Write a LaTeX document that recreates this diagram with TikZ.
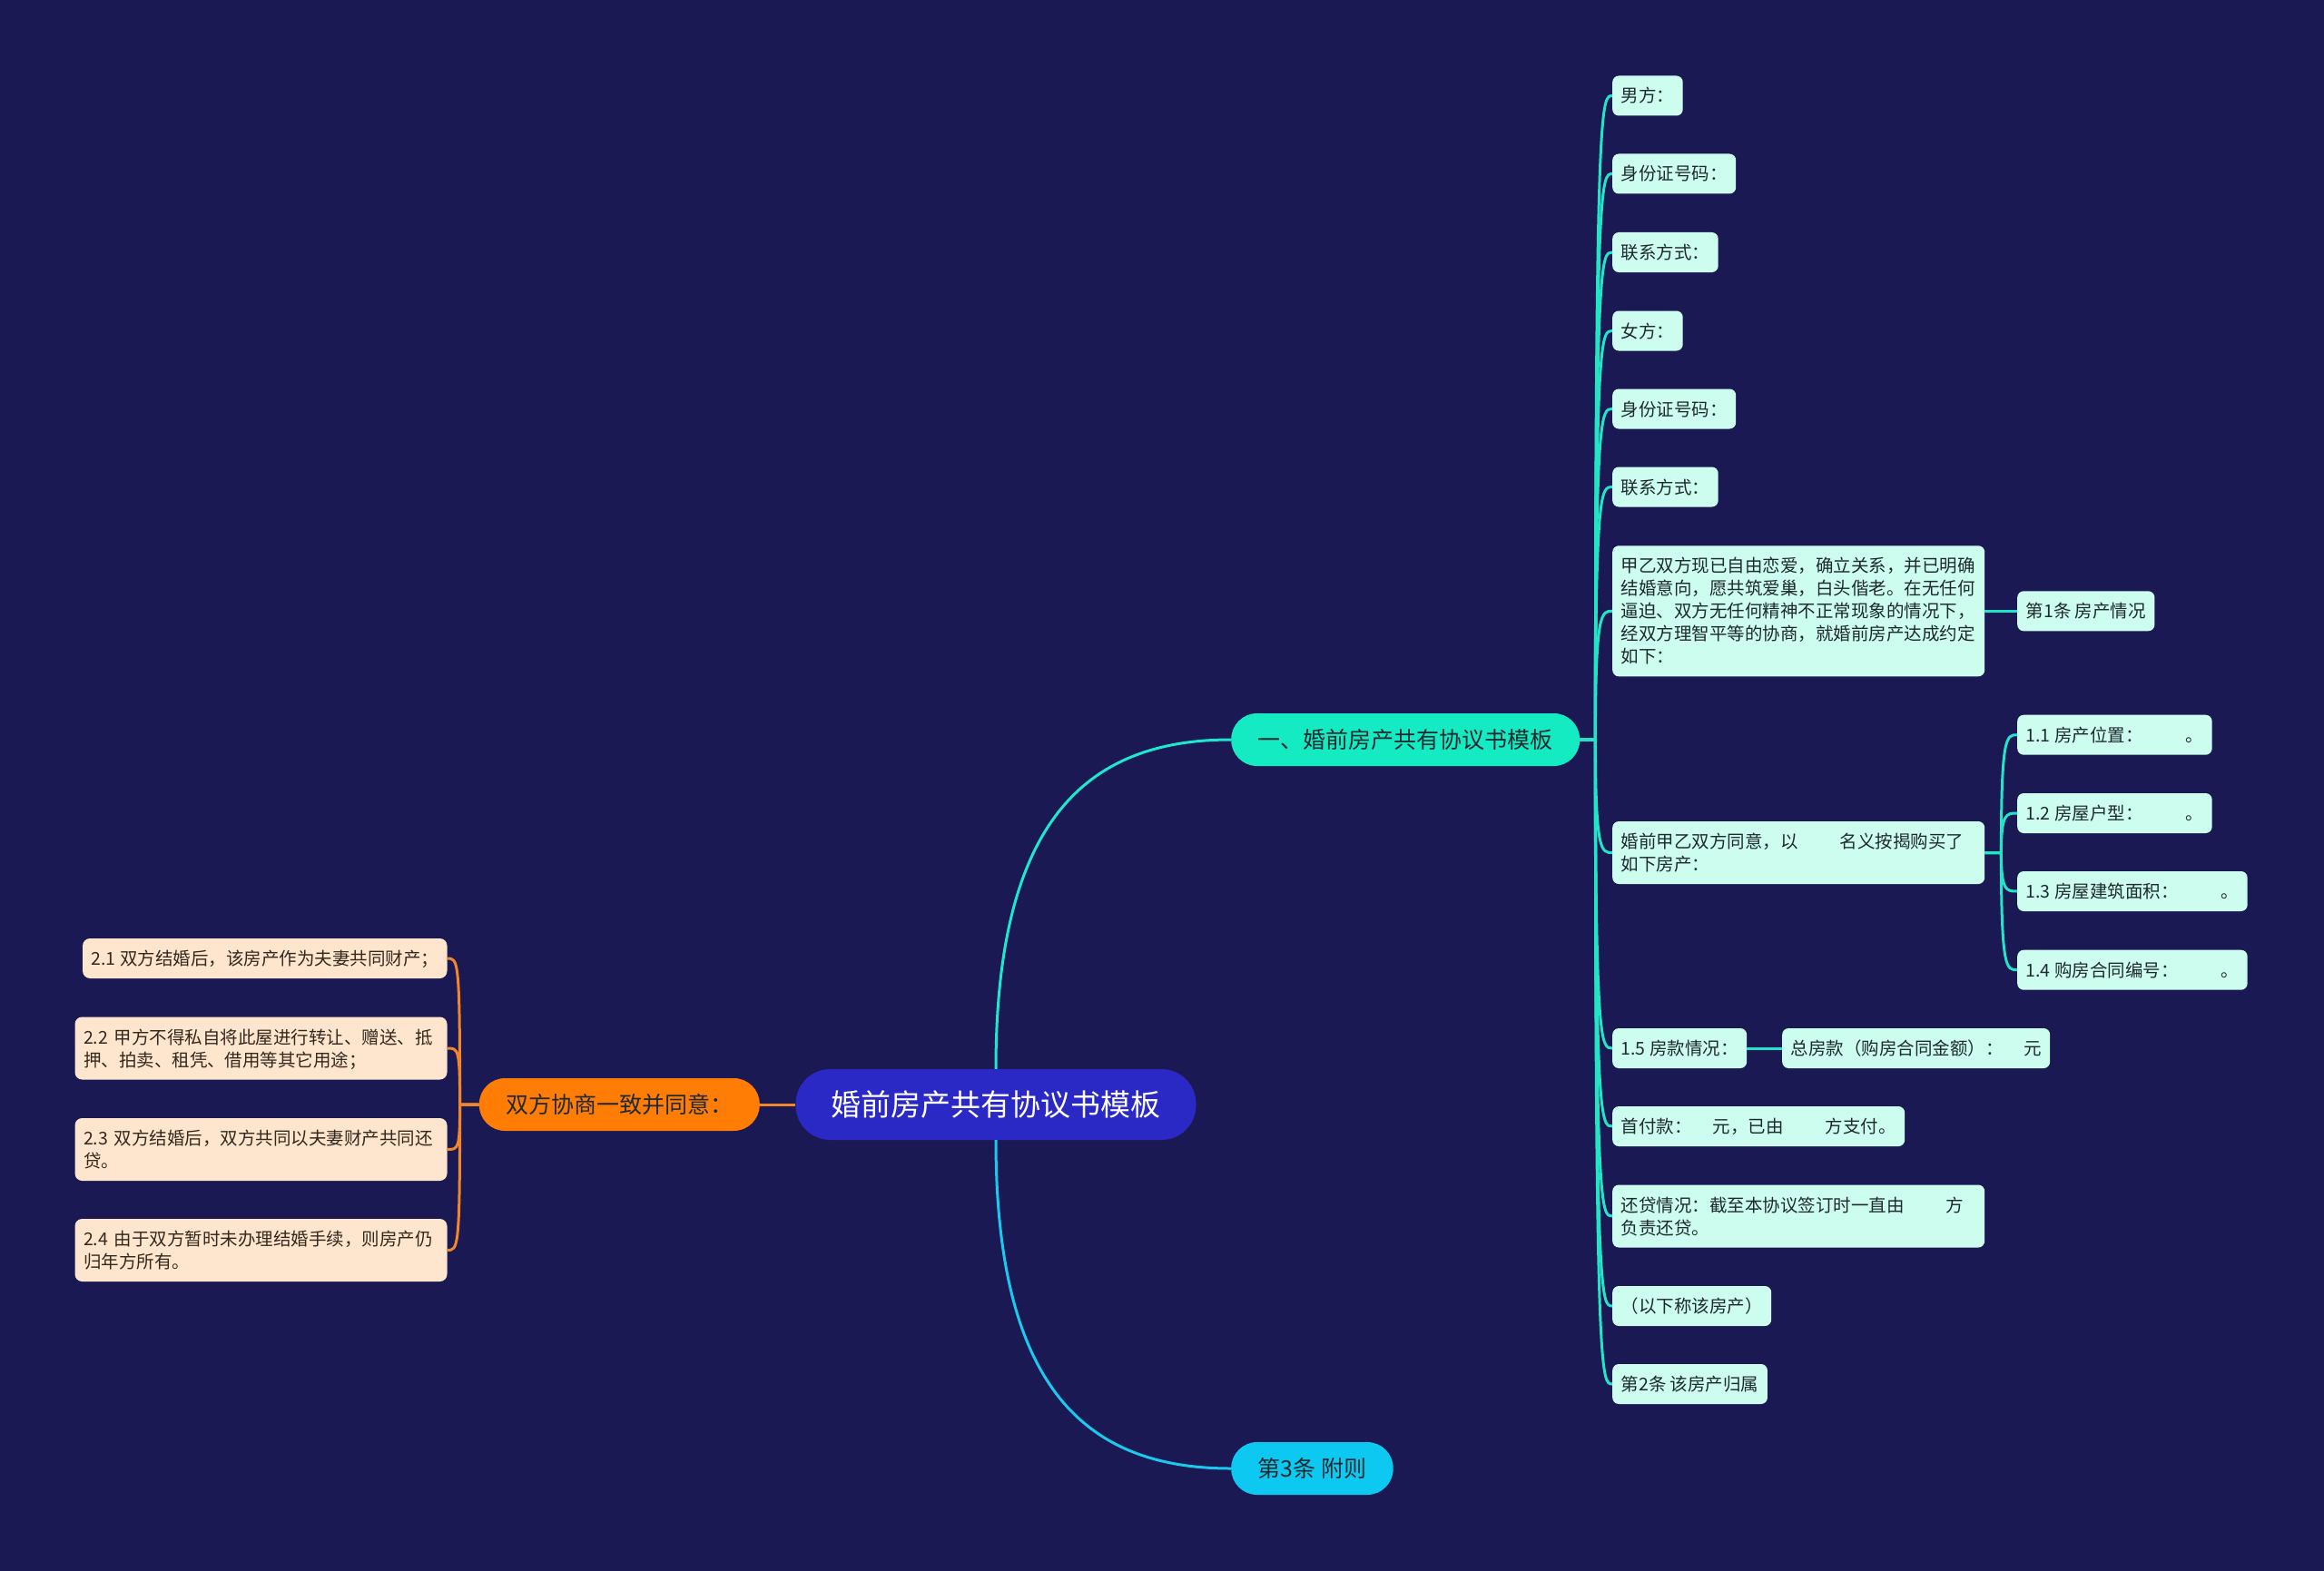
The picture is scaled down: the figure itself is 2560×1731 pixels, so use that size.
\documentclass[tikz,border=0pt]{standalone}
\usepackage{fontspec}
\setmainfont{Noto Sans CJK SC}
\definecolor{bg}{HTML}{1A1953}
\definecolor{rootfill}{HTML}{2A29C6}
\definecolor{bonefill}{HTML}{14EBC3}
\definecolor{bthreefill}{HTML}{0DC8F0}
\definecolor{orfill}{HTML}{FF7C05}
\definecolor{leafRfill}{HTML}{CDFDEF}
\definecolor{leafLfill}{HTML}{FEE5CD}
\definecolor{darktext}{HTML}{1E2A30}
\definecolor{browntext}{HTML}{33291F}
\definecolor{tealline}{HTML}{22E4C6}
\definecolor{cyanline}{HTML}{1BC9EF}
\definecolor{orline}{HTML}{F1862A}
\newcommand\st{\rule[-5pt]{0pt}{25pt}}
\newcommand\gapL{\hspace*{46pt}}
\newcommand\gapS{\hspace*{23pt}}
\begin{document}
\begin{tikzpicture}[x=1pt,y=-1pt,
  leafbase/.style={draw=none, rounded corners=7pt, inner xsep=9.5pt, inner ysep=9.5pt,
    font=\fontsize{19.5pt}{25pt}\selectfont, align=left},
  leafR/.style={leafbase, fill=leafRfill, text=darktext, anchor=west},
  leafL/.style={leafbase, fill=leafLfill, text=browntext, anchor=east, rounded corners=8pt},
  rootn/.style={fill=rootfill, text=white, rounded corners=38pt, minimum height=78pt,
    inner xsep=39pt, inner ysep=0pt, font=\fontsize{33pt}{40pt}\selectfont},
  branchn/.style={rounded corners=28.5pt, minimum height=58pt, inner xsep=29.5pt,
    inner ysep=0pt, font=\fontsize{25pt}{30pt}\selectfont, text=darktext},
  rline/.style={draw=tealline, line width=3pt},
  cline/.style={draw=cyanline, line width=3pt},
  oline/.style={draw=orline, line width=3pt}
]
\useasboundingbox (0,0) rectangle (2560,1731);
\fill[bg] (0,0) rectangle (2560,1731);

% root and main branches
\node[rootn] (root) at (1097,1217) {婚前房产共有协议书模板};
\node[branchn, fill=bonefill, anchor=west] (b1) at (1356,815) {一、婚前房产共有协议书模板};
\node[branchn, fill=bthreefill, anchor=west] (b3) at (1356,1618) {第3条 附则};
\node[branchn, fill=orfill, anchor=east] (o) at (837,1217) {双方协商一致并同意：};

% right children
\node[leafR] (r1) at (1776,105.5) {\st 男方：};
\node[leafR] (r2) at (1776,191.5) {\st 身份证号码：};
\node[leafR] (r3) at (1776,278) {\st 联系方式：};
\node[leafR] (r4) at (1776,364.5) {\st 女方：};
\node[leafR] (r5) at (1776,450.5) {\st 身份证号码：};
\node[leafR] (r6) at (1776,536.5) {\st 联系方式：};
\node[leafR, text width=391pt] (r7) at (1776,673.3) {\st 甲乙双方现已自由恋爱，确立关系，并已明确\\\st 结婚意向，愿共筑爱巢，白头偕老。在无任何\\\st 逼迫、双方无任何精神不正常现象的情况下，\\\st 经双方理智平等的协商，就婚前房产达成约定\\\st 如下：};
\node[leafR, text width=391pt] (r8) at (1776,939.5) {\st 婚前甲乙双方同意，以\gapL 名义按揭购买了\\\st 如下房产：};
\node[leafR] (r9) at (1776,1155) {\st 1.5 房款情况：};
\node[leafR] (r10) at (1776,1241) {\st 首付款：\gapS 元，已由\gapL 方支付。};
\node[leafR, text width=391pt] (r11) at (1776,1340) {\st 还贷情况：截至本协议签订时一直由\gapL 方\\\st 负责还贷。};
\node[leafR] (r12) at (1776,1439) {\st （以下称该房产）};
\node[leafR] (r13) at (1776,1525) {\st 第2条 该房产归属};

% grandchildren
\node[leafR] (p1) at (2222,673.3) {\st 第1条 房产情况};
\node[leafR] (s1) at (2222,809.7) {\st 1.1 房产位置：\hspace*{47pt}。};
\node[leafR] (s2) at (2222,896) {\st 1.2 房屋户型：\hspace*{47pt}。};
\node[leafR] (s3) at (2222,982) {\st 1.3 房屋建筑面积：\hspace*{47pt}。};
\node[leafR] (s4) at (2222,1068.7) {\st 1.4 购房合同编号：\hspace*{47pt}。};
\node[leafR] (q1) at (1963,1155) {\st 总房款（购房合同金额）：\hspace*{22.5pt}元};

% left children
\node[leafL] (l1) at (492.7,1056) {\st 2.1 双方结婚后，该房产作为夫妻共同财产；};
\node[leafL, text width=391pt] (l2) at (492.7,1155) {\st 2.2 甲方不得私自将此屋进行转让、赠送、抵\\\st 押、拍卖、租凭、借用等其它用途；};
\node[leafL, text width=391pt] (l3) at (492.7,1266.5) {\st 2.3 双方结婚后，双方共同以夫妻财产共同还\\\st 贷。};
\node[leafL, text width=391pt] (l4) at (492.7,1377.5) {\st 2.4 由于双方暂时未办理结婚手续，则房产仍\\\st 归年方所有。};

% junction points
\coordinate (t1) at ([xshift=17pt]b1.east);
\coordinate (t2) at ([xshift=18pt]r8.east);
\coordinate (t3) at ([xshift=-21pt]o.west);

% root connectors
\draw[rline, draw=tealline!85!cyan] (root.north) .. controls +(0,-278) and +(-156,0) .. (b1.west);
\draw[cline] (root.south) .. controls +(0,278) and +(-156,0) .. (b3.west);
\draw[oline] (root.west) -- (o.east);

% branch 1 children
\foreach \n in {r1,r2,r3,r4,r5,r6,r7,r8,r9,r10,r11,r12,r13}
  \draw[rline] (b1.east) -- (t1) .. controls (t1 |- \n.west) and ([xshift=-12pt]\n.west) .. (\n.west);
\foreach \n in {s1,s2,s3,s4}
  \draw[rline] (r8.east) -- (t2) .. controls (t2 |- \n.west) and ([xshift=-12pt]\n.west) .. (\n.west);
\draw[rline] (r7.east) -- (p1.west);
\draw[rline] (r9.east) -- (q1.west);

% left children
\foreach \n in {l1,l2,l3,l4}
  \draw[oline] (o.west) -- (t3) .. controls (t3 |- \n.east) and ([xshift=12pt]\n.east) .. (\n.east);
\end{tikzpicture}
\end{document}
